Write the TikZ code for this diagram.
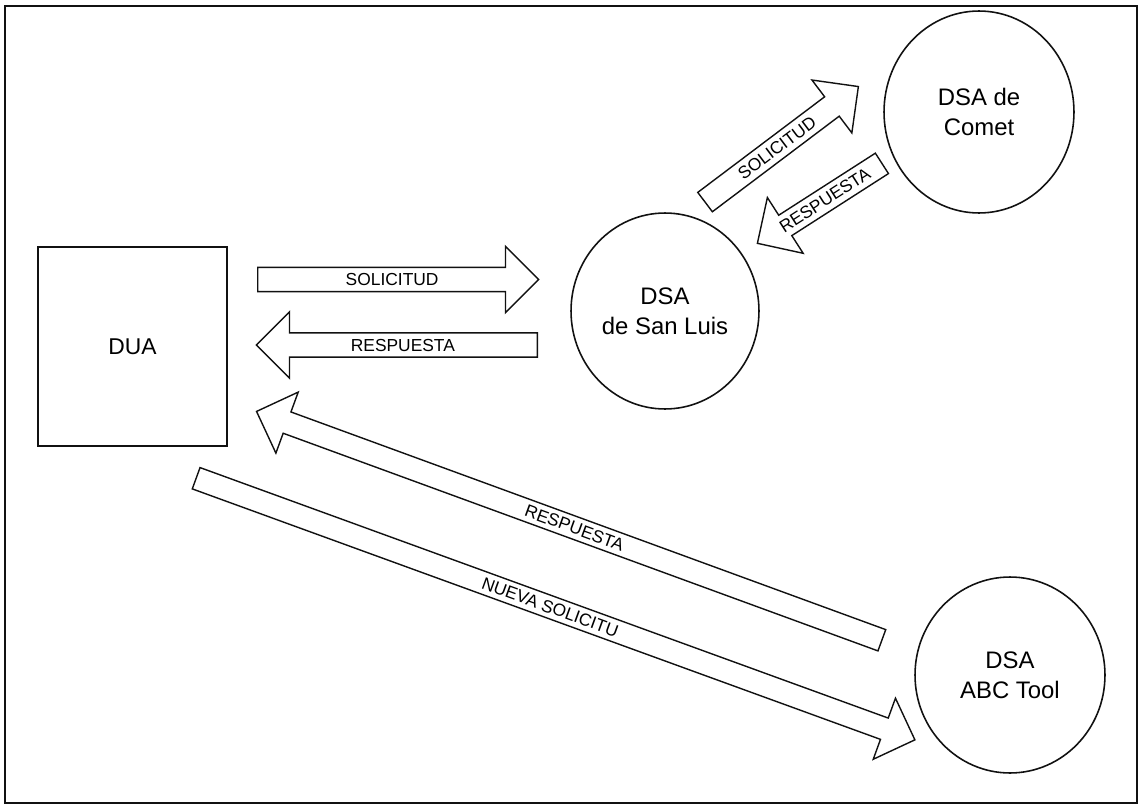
\documentclass[tikz,border=0pt]{standalone}
\usepackage{fontspec}
\setmainfont{Liberation Sans}
\usepackage{tikz}
\usepackage{xcolor}
\usetikzlibrary{positioning,calc,shapes.geometric,shapes.arrows}
\definecolor{inkdark}{HTML}{111111}

\begin{document}
\begin{tikzpicture}[x=0.02cm, y=-0.02cm,
  mBox/.style      ={rectangle, draw=inkdark, line width=0.8pt, inner sep=0pt, minimum width=3.78cm, minimum height=3.98cm, font=\fontsize{13}{17}\selectfont},
  mDsa/.style      ={ellipse, draw=inkdark, line width=0.9pt, inner sep=0pt, align=center, font=\fontsize{13.6}{17}\selectfont},
  mArrow/.style    ={single arrow, draw=inkdark, line width=0.8pt, anchor=tail, single arrow head extend=0.42cm, minimum width=1.3cm, text height=7pt, text depth=0pt, inner xsep=2pt, inner ysep=3pt, font=\fontsize{9.9}{11}\selectfont},
  mArrowLong/.style={mArrow, inner ysep=2.5pt},
]
% page in pixel units: 1140 x 808, y pointing down
\useasboundingbox (0,0) rectangle (1140,808);
\draw[inkdark, line width=1.1pt] (5,6) rectangle (1137,803);

% agents
\node[mBox] (dua) at (132.5,346.5) {DUA};
\node[mDsa, minimum width=3.76cm, minimum height=3.92cm] (sanluis) at (665,311) {DSA\\de San Luis};
\node[mDsa, minimum width=3.80cm, minimum height=4.04cm] (comet) at (979,112) {DSA de\\Comet};
\node[mDsa, minimum width=3.80cm, minimum height=3.92cm] (abc) at (1010,675) {DSA\\ABC Tool};

% DUA <-> DSA de San Luis
\node[mArrow, minimum height=5.62cm] (solSL) at (257,279.5) {SOLICITUD};
\node[mArrow, minimum height=5.62cm, shape border rotate=180] (resSL) at (538,345) {RESPUESTA};

% San Luis <-> Comet
\node[mArrow, minimum height=3.84cm, rotate=37] (solCo) at (704.5,202.5) {SOLICITUD};
\node[mArrow, minimum height=2.96cm, rotate=32.7, shape border rotate=180] (resCo) at (882.5,163) {RESPUESTA};

% DUA <-> ABC Tool (long ones)
\node[mArrowLong, minimum height=13.32cm, rotate=-20.1, shape border rotate=180] (resABC) at (882.5,640.5) {RESPUESTA};
\node[mArrowLong, minimum height=15.3cm, rotate=-20.0] (solABC) at (195.5,478) {NUEVA SOLICITU};
\end{tikzpicture}
\end{document}
